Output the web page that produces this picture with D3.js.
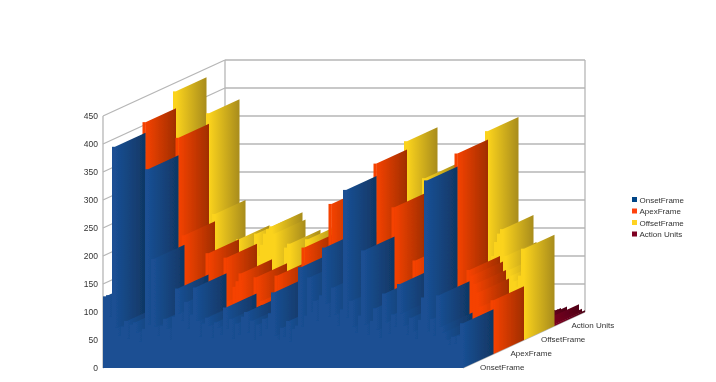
<!DOCTYPE html>
<html>
<head>
<meta charset="utf-8">
<script src="https://cdn.jsdelivr.net/npm/d3@7"></script>
<style>
  html, body { margin: 0; padding: 0; background: #fff; }
  svg { display: block; font-family: "Liberation Sans", sans-serif; }
</style>
</head>
<body>
<svg id="chart" width="716" height="382"></svg>
<script>
// series, front row first
const seriesNames = ["OnsetFrame", "ApexFrame", "OffsetFrame", "Action Units"];
const yTicks = [0, 50, 100, 150, 200, 250, 300, 350, 400, 450];

const onsetFrame = [
  128,130,92,395,72,58,74,84,52,78,
  82,64,48,70,355,78,195,74,58,76,
  88,70,50,92,142,98,84,118,70,96,
  144,84,56,80,90,76,54,82,73,60,
  108,70,88,52,80,60,92,100,64,85,
  50,78,58,88,70,98,135,58,50,72,
  56,84,48,70,76,180,74,94,162,100,
  120,84,130,215,115,92,144,96,76,105,
  318,90,120,74,64,94,210,78,60,84,
  107,68,54,133,82,62,96,74,150,98,
  76,60,90,66,52,86,126,335,66,88,
  58,130,74,64,50,42,56,44,58,80
];
const apexFrame = [
  140,150,100,414,80,70,85,90,70,95,
  110,80,70,75,386,95,212,90,75,80,
  100,85,70,95,180,115,95,125,85,100,
  172,95,80,120,130,144,90,90,85,80,
  137,85,95,75,85,75,95,140,80,100,
  75,85,75,90,85,115,190,75,70,80,
  75,90,70,80,90,268,90,105,140,110,
  130,100,140,200,125,105,150,105,90,120,
  340,105,130,90,80,100,262,90,80,90,
  120,85,75,167,95,80,105,90,130,105,
  90,80,95,80,75,90,140,358,80,95,
  120,150,140,125,110,85,75,70,75,96
];
const offsetFrame = [
  170,190,120,444,100,85,110,105,90,125,
  140,100,85,90,405,125,225,110,95,100,
  130,105,85,115,180,140,120,150,100,120,
  190,150,170,190,198,203,190,120,115,100,
  165,172,115,90,95,90,110,180,100,125,
  85,100,90,110,110,140,170,95,90,95,
  90,105,90,95,115,200,110,130,165,135,
  155,120,165,225,150,130,175,130,110,145,
  355,130,155,110,100,125,289,115,95,105,
  145,100,90,190,115,100,130,110,155,130,
  110,95,120,100,90,115,165,373,110,150,
  175,190,198,150,125,115,105,95,115,163
];
const actionUnits = [
  4,6,3,8,5,4,7,3,5,6,
  4,3,6,5,8,4,7,3,5,4,
  6,3,5,7,4,6,3,5,4,8,
  5,3,6,4,7,3,5,6,4,3,
  7,5,4,6,3,8,5,4,6,3,
  5,7,4,3,6,5,8,4,3,5,
  6,4,7,3,5,6,4,8,3,5,
  4,6,3,7,5,4,6,3,5,8,
  4,3,6,5,7,4,3,6,5,4,
  8,3,5,6,4,7,3,5,4,6,
  3,5,7,4,6,8,5,3,6,4,
  5,7,4,10,5,6,5,14,6,3
];

const seriesValues = [onsetFrame, apexFrame, offsetFrame, actionUnits];
const colors = ["#1a4f93", "#f54200", "#fbd31e", "#7e0021"];
const darkColors = ["#103764", "#a02e06", "#a88c1a", "#4f0016"];
const legendColors = ["#004586", "#ff420e", "#ffd320", "#7e0021"];

// the chart frame: front row on the left/bottom, the depth pushes things up and right
const frontLeft = 103;
const frontRight = 463;
const floorY = 368;
const top450 = 116;
const depthW = 122;
const depthH = 56;

const categories = d3.range(onsetFrame.length);
const x = d3.scaleBand().domain(categories).range([frontLeft, frontRight]);
const y = d3.scaleLinear().domain([0, 450]).range([floorY, top450]);
const dx = d3.scaleBand().domain(seriesNames).range([0, depthW]);
const dy = d3.scaleBand().domain(seriesNames).range([0, depthH]);

const svg = d3.select("#chart");

// gradients for the side faces, blur because the source picture is soft
const defs = svg.append("defs");
defs.append("filter").attr("id", "soft")
  .attr("x", "-2%").attr("y", "-2%").attr("width", "104%").attr("height", "104%")
  .append("feGaussianBlur").attr("stdDeviation", 0.5);
defs.append("filter").attr("id", "softer")
  .attr("x", "-2%").attr("y", "-2%").attr("width", "104%").attr("height", "104%")
  .append("feGaussianBlur").attr("stdDeviation", 0.3);
seriesNames.forEach((s, i) => {
  const g = defs.append("linearGradient").attr("id", "side" + i)
    .attr("x1", 0).attr("x2", 1).attr("y1", 0).attr("y2", 0);
  g.append("stop").attr("offset", "0%").attr("stop-color", colors[i]);
  g.append("stop").attr("offset", "100%").attr("stop-color", darkColors[i]);
});

// walls
const gWalls = svg.append("g")
  .attr("fill", "none")
  .attr("stroke", "#b6b6b6")
  .attr("stroke-width", 1.3)
  .attr("filter", "url(#softer)");

gWalls.selectAll("line.back").data(yTicks).enter().append("line")
  .attr("x1", frontLeft + depthW).attr("x2", frontRight + depthW)
  .attr("y1", d => y(d) - depthH).attr("y2", d => y(d) - depthH);
gWalls.selectAll("line.left").data(yTicks).enter().append("line")
  .attr("x1", frontLeft).attr("x2", frontLeft + depthW)
  .attr("y1", d => y(d)).attr("y2", d => y(d) - depthH);
gWalls.append("line")
  .attr("x1", frontLeft).attr("x2", frontLeft)
  .attr("y1", y(450)).attr("y2", y(0));
gWalls.append("line")
  .attr("x1", frontLeft + depthW).attr("x2", frontLeft + depthW)
  .attr("y1", y(450) - depthH).attr("y2", y(0) - depthH);
gWalls.append("line")
  .attr("x1", frontRight + depthW).attr("x2", frontRight + depthW)
  .attr("y1", y(450) - depthH).attr("y2", y(0) - depthH);
gWalls.append("line")
  .attr("x1", frontRight).attr("x2", frontRight + depthW)
  .attr("y1", y(0)).attr("y2", y(0) - depthH);

// bars: back row first, left to right inside a row
const gBars = svg.append("g").attr("filter", "url(#soft)");
const bw = x.bandwidth();
const sideW = dx.bandwidth();
const sideH = dy.bandwidth();

for (let s = seriesNames.length - 1; s >= 0; s--) {
  const name = seriesNames[s];
  const ox = dx(name);
  const oy = dy(name);
  const row = gBars.append("g").attr("transform", `translate(${ox},${-oy})`);
  const bars = row.selectAll("g")
    .data(categories.filter(c => seriesValues[s][c] > 0))
    .enter().append("g");

  bars.append("rect")
    .attr("x", c => x(c))
    .attr("width", bw + 0.3)
    .attr("y", c => y(seriesValues[s][c]))
    .attr("height", c => y(0) - y(seriesValues[s][c]))
    .attr("fill", colors[s]);

  // right side face
  bars.append("polygon")
    .attr("points", c => {
      const r = x(c) + bw, t = y(seriesValues[s][c]);
      return [[r, t], [r + sideW, t - sideH], [r + sideW, y(0) - sideH], [r, y(0)]].join(" ");
    })
    .attr("fill", `url(#side${s})`);
}

// y axis
const yAxis = d3.axisLeft(y).tickValues(yTicks).tickSize(0).tickPadding(5);
const gAxis = svg.append("g")
  .attr("transform", `translate(${frontLeft},0)`)
  .attr("filter", "url(#softer)")
  .call(yAxis);
gAxis.select(".domain").remove();
gAxis.selectAll("text")
  .attr("font-family", "Liberation Sans")
  .attr("font-size", 8.5)
  .attr("fill", "#333");

// depth labels
svg.append("g").attr("filter", "url(#softer)")
  .selectAll("text").data(seriesNames).enter().append("text")
  .attr("x", d => frontRight + 17 + dx(d))
  .attr("y", d => floorY + 2 - dy(d))
  .attr("font-size", 8)
  .attr("fill", "#333")
  .text(d => d);

// legend
const legend = svg.append("g").attr("filter", "url(#softer)")
  .selectAll("g").data(seriesNames).enter().append("g")
  .attr("transform", (d, i) => `translate(632,${199.5 + i * 11.5})`);
legend.append("rect")
  .attr("y", -2.5).attr("width", 5).attr("height", 5)
  .attr("fill", (d, i) => legendColors[i]);
legend.append("text")
  .attr("x", 7.5).attr("y", 3)
  .attr("font-size", 8)
  .attr("fill", "#333")
  .text(d => d);
</script>
</body>
</html>
